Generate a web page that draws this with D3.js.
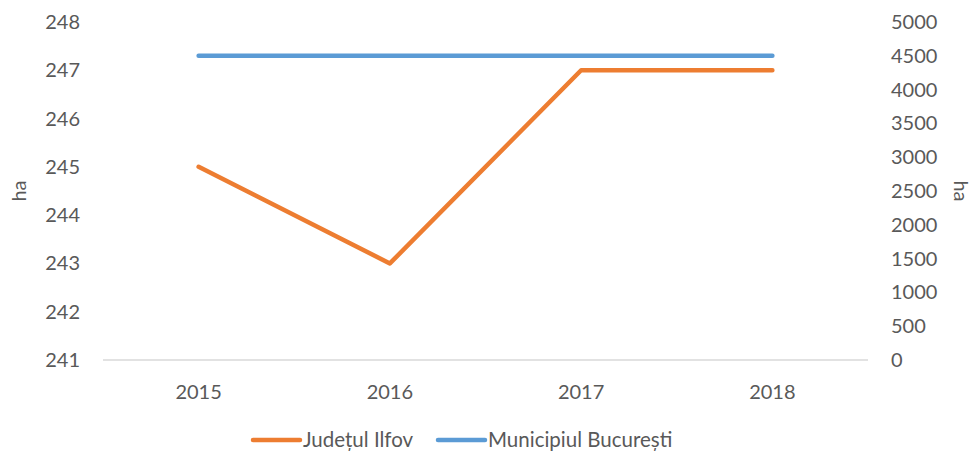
<!DOCTYPE html>
<html>
  <head>
    <script src="https://d3js.org/d3.v7.min.js"></script>
    <style>
      body { margin: 0; background: #fff; }
      text { font-family: Lato, "Open Sans", sans-serif; fill: #595959; }
    </style>
  </head>
  <body>
<script type="text/javascript">
var years = ['2015', '2016', '2017', '2018'];
var ilfov = [245, 243, 247, 247];
var bucuresti = [4500, 4500, 4500, 4500];
var leftTicks = [241, 242, 243, 244, 245, 246, 247, 248];
var rightTicks = [0, 500, 1000, 1500, 2000, 2500, 3000, 3500, 4000, 4500, 5000];

var width = 975, height = 455;
var plot = {left: 103, right: 868, top: 22, bottom: 360};

var svg = d3.select('body').append('svg')
      .attr('width', width)
      .attr('height', height);

var x = d3.scaleBand()
      .domain(years)
      .range([plot.left, plot.right]);

var yLeft = d3.scaleLinear()
      .domain([241, 248])
      .range([plot.bottom, plot.top]);

var yRight = d3.scaleLinear()
      .domain([0, 5000])
      .range([plot.bottom, plot.top]);

// baseline
svg.append('line')
    .attr('x1', plot.left).attr('x2', plot.right)
    .attr('y1', plot.bottom).attr('y2', plot.bottom)
    .attr('stroke', '#d9d9d9')
    .attr('stroke-width', 1.5);

// left axis labels
svg.append('g')
    .selectAll('text')
    .data(leftTicks)
    .enter()
    .append('text')
    .attr('x', 80)
    .attr('y', function(d) { return yLeft(d); })
    .attr('dy', '0.35em')
    .attr('text-anchor', 'end')
    .style('font-size', '20px')
    .text(function(d) { return d; });

// right axis labels
svg.append('g')
    .selectAll('text')
    .data(rightTicks)
    .enter()
    .append('text')
    .attr('x', 891)
    .attr('y', function(d) { return yRight(d); })
    .attr('dy', '0.35em')
    .attr('text-anchor', 'start')
    .style('font-size', '20px')
    .text(function(d) { return d; });

// x labels
svg.append('g')
    .selectAll('text')
    .data(years)
    .enter()
    .append('text')
    .attr('x', function(d) { return x(d) + x.bandwidth() / 2; })
    .attr('y', 392)
    .attr('dy', '0.35em')
    .attr('text-anchor', 'middle')
    .style('font-size', '20px')
    .text(function(d) { return d; });

// axis titles
svg.append('text')
    .attr('transform', 'translate(26,' + (plot.top + plot.bottom) / 2 + ') rotate(-90)')
    .attr('text-anchor', 'middle')
    .style('font-size', '20px')
    .text('ha');

svg.append('text')
    .attr('transform', 'translate(954,' + (plot.top + plot.bottom) / 2 + ') rotate(90)')
    .attr('text-anchor', 'middle')
    .style('font-size', '20px')
    .text('ha');

var cx = function(d, i) { return x(years[i]) + x.bandwidth() / 2; };

svg.append('path')
    .datum(bucuresti)
    .attr('fill', 'none')
    .attr('stroke', '#5B9BD5')
    .attr('stroke-width', 4.5)
    .attr('stroke-linecap', 'round')
    .attr('d', d3.line().x(cx).y(function(d) { return yRight(d); }));

svg.append('path')
    .datum(ilfov)
    .attr('fill', 'none')
    .attr('stroke', '#ED7D31')
    .attr('stroke-width', 4.5)
    .attr('stroke-linecap', 'round')
    .attr('stroke-linejoin', 'round')
    .attr('d', d3.line().x(cx).y(function(d) { return yLeft(d); }));

// legend
var legend = [
  {name: 'Județul Ilfov', color: '#ED7D31', x: 253},
  {name: 'Municipiul București', color: '#5B9BD5', x: 438}
];
var lg = svg.append('g')
    .selectAll('g')
    .data(legend)
    .enter()
    .append('g')
    .attr('transform', function(d) { return 'translate(' + d.x + ',440)'; });
lg.append('line')
    .attr('x1', 0).attr('x2', 47)
    .attr('stroke', function(d) { return d.color; })
    .attr('stroke-width', 4.5)
    .attr('stroke-linecap', 'round');
lg.append('text')
    .attr('x', 50)
    .attr('dy', '0.35em')
    .style('font-size', '20.5px')
    .text(function(d) { return d.name; });
</script>
  </body>
</html>
